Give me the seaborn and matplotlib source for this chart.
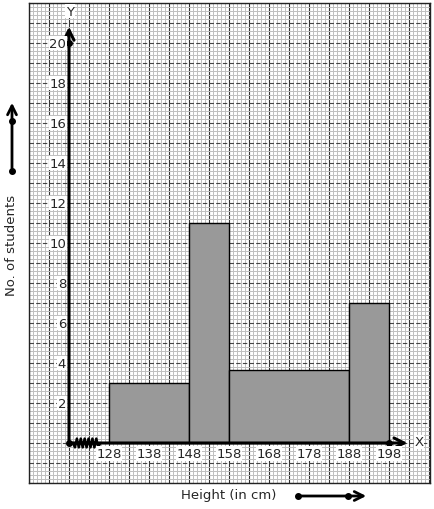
import numpy as np
import matplotlib
matplotlib.use("Agg")
import matplotlib.pyplot as plt
import seaborn as sns

# class boundaries (cm) and bar heights (no. of students, adjusted)
edges = [128, 148, 158, 188, 198]
heights = [3, 11, 3.67, 7]
mids = [(a + b) / 2 for a, b in zip(edges[:-1], edges[1:])]
x_ticks = [128, 138, 148, 158, 168, 178, 188, 198]
y_ticks = [2, 4, 6, 8, 10, 12, 14, 16, 18, 20]

sns.set_style("white")
plt.rcParams['font.family'] = ['DejaVu Sans']

fig = plt.figure(figsize=(4.34, 5.10), dpi=100)
ax = fig.add_axes([29 / 434, 26 / 510, 401 / 434, 480 / 510])

# histogram with unequal class widths
sns.histplot(x=mids, weights=heights, bins=edges, stat="count",
             color="#999999", edgecolor="black", linewidth=1, alpha=1, ax=ax, zorder=3)

ax.set_xlim(108, 208.25)
ax.set_ylim(-2, 22)
ax.set_xlabel("")
ax.set_ylabel("")

# graph paper
ax.set_xticks(np.arange(108, 209, 5))
ax.set_xticks(np.arange(108, 209, 1), minor=True)
ax.set_yticks(np.arange(-2, 23, 1))
ax.set_yticks(np.arange(-2, 22.01, 0.2), minor=True)
ax.tick_params(which="both", length=0, labelbottom=False, labelleft=False)
ax.grid(which="minor", color="#c0c0c0", lw=0.72)
ax.grid(which="major", axis="x", color="#333333", lw=0.8)
ax.grid(which="major", axis="y", color="#444444", lw=0.8, ls=(0, (4, 2)))
ax.set_axisbelow(True)
for s in ax.spines.values():
    s.set_color("#222222")
    s.set_linewidth(1)

# axes with arrows
ax.annotate("", xy=(118, 20.95), xytext=(118, 0),
            arrowprops=dict(arrowstyle="->", lw=2.2, color="black", mutation_scale=18), zorder=5)
ax.annotate("", xy=(203.3, 0), xytext=(118, 0),
            arrowprops=dict(arrowstyle="->", lw=2.2, color="black", mutation_scale=18), zorder=5)
ax.plot([118, 118, 198], [0, 20, 0], "o", color="black", ms=4, zorder=6)

# kink on the x axis
zx = np.linspace(119, 125.8, 15)
zy = np.tile([0.22, -0.22], 8)[:15]
zy[0] = 0
zy[-1] = 0
ax.plot(zx, zy, color="black", lw=1.8, zorder=6)

# tick labels
for v in y_ticks:
    ax.text(117.3, v, str(v), ha="right", va="center", fontsize=9.5, zorder=7,
            bbox=dict(facecolor="white", edgecolor="none", pad=0.5))
for v in x_ticks:
    ax.text(v, -0.2, str(v), ha="center", va="top", fontsize=9.5, zorder=7,
            bbox=dict(facecolor="white", edgecolor="none", pad=0.5))
ax.text(118.25, 21.6, "Y", ha="center", va="center", fontsize=9.5, zorder=7,
        bbox=dict(facecolor="white", edgecolor="none", pad=0.5))
ax.text(204.3, 0.05, "X", ha="left", va="center", fontsize=9.5, zorder=7,
        bbox=dict(facecolor="white", edgecolor="none", pad=0.5))

# outer axis titles with arrows
fig.text(12 / 434, 1 - 245 / 510, "No. of students", rotation=90, ha="center", va="center", fontsize=9.5)
fig.text(229 / 434, 1 - 496 / 510, "Height (in cm)", ha="center", va="center", fontsize=9.5)
fig.add_artist(matplotlib.patches.FancyArrowPatch((12 / 434, 1 - 172 / 510), (12 / 434, 1 - 101 / 510),
               transform=fig.transFigure, arrowstyle="->", lw=2, color="black", mutation_scale=16))
fig.add_artist(matplotlib.patches.FancyArrowPatch((298 / 434, 1 - 497 / 510), (369 / 434, 1 - 497 / 510),
               transform=fig.transFigure, arrowstyle="->", lw=2, color="black", mutation_scale=16))
fig.add_artist(plt.Line2D([12 / 434, 12 / 434], [1 - 172 / 510, 1 - 122 / 510], transform=fig.transFigure,
                          ls="none", marker="o", ms=4, color="black"))
fig.add_artist(plt.Line2D([298 / 434, 348 / 434], [1 - 497 / 510, 1 - 497 / 510], transform=fig.transFigure,
                          ls="none", marker="o", ms=4, color="black"))

fig.savefig("out.png", dpi=100)
